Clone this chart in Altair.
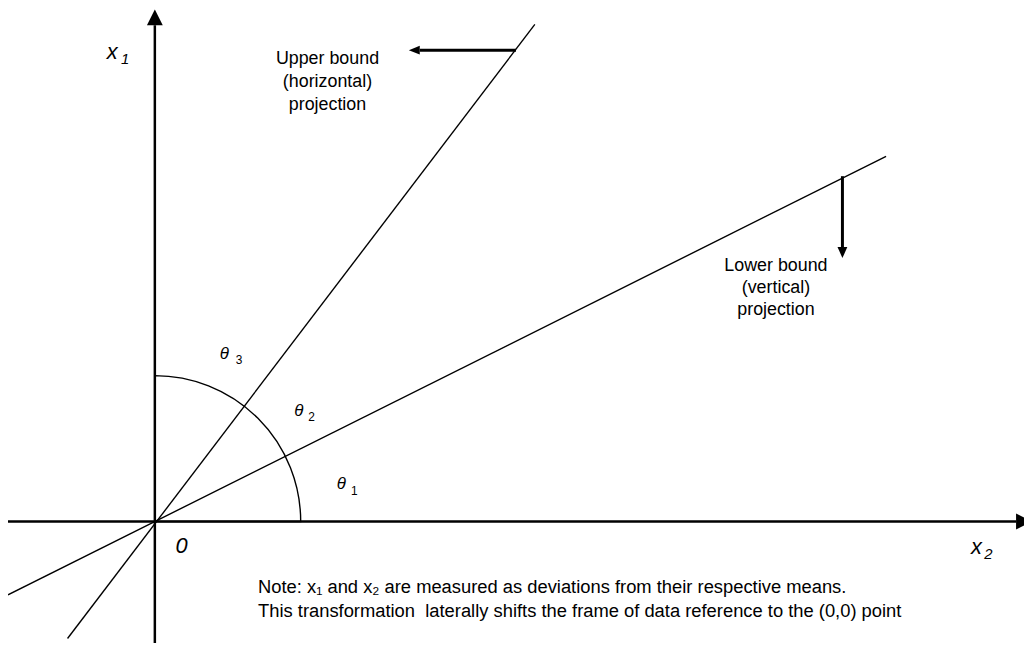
import math
import altair as alt
import pandas as pd

# ---- Diagram coordinates: origin of the (x2, x1) frame at (0, 0); x2 to the right, x1 upward ----
# Coordinate axes (start / end of the shafts)
axis_names = ["x2 axis", "x1 axis"]
axis_x = [-150, 0]
axis_y = [0, -130]
axis_x2 = [868, 0]
axis_y2 = [0, 500]

# Bound lines through the origin
bound_names = ["upper bound line", "lower bound line"]
bound_x = [-88, -148]
bound_y = [-118, -74]
bound_x2 = [383, 737]
bound_y2 = [501, 368]

# Projection arrows (shaft start on the bound line -> shaft end)
proj_names = ["horizontal projection", "vertical projection"]
proj_x = [364, 693]
proj_y = [475, 348]
proj_x2 = [267, 693]
proj_y2 = [475, 276]

# Arrow heads
head_up = {"x": [0], "y": [508]}
head_right = {"x": [876], "y": [0]}
head_left = {"x": [261.5], "y": [475]}
head_down = {"x": [693], "y": [271]}

# Angle arc (quarter circle around the origin)
arc_cx = [0]
arc_cy = [0]
arc_radius = [147]
arc_from_deg = [0]
arc_to_deg = [90]

# Labels
axis_label_text = ["x", "x", "0"]
axis_label_x = [-43, 828, 27]
axis_label_y = [473, -26, -25]
axis_sub_text = ["1", "2"]
axis_sub_x = [-30, 840]
axis_sub_y = [466, -33]

theta_text = ["θ", "θ", "θ"]
theta_x = [70, 145, 188]
theta_y = [169, 111, 38]
theta_sub_text = ["3", "2", "1"]
theta_sub_x = [85, 158, 201]
theta_sub_y = [163, 105, 31]

block_text = ["Upper bound", "(horizontal)", "projection",
              "Lower bound", "(vertical)", "projection"]
block_x = [174, 174, 174, 626, 626, 626]
block_y = [466, 443, 420, 257, 235, 213]

note_text = ["Note: x\u2081 and x\u2082 are measured as deviations from their respective means.",
             "This transformation \u00a0laterally shifts the frame of data reference to the (0,0) point"]
note_x = [104, 104]
note_y = [-66, -90]

# ---- Scales (1 unit = 1 px) ----
W, H = 1024, 635
xs = alt.Scale(domain=[-148, 876], range=[0, W], nice=False, zero=False)
ys = alt.Scale(domain=[-120, 515], range=[H, 0], nice=False, zero=False)

def xy(xf="x", yf="y"):
    return dict(x=alt.X(f"{xf}:Q", scale=xs, axis=None),
                y=alt.Y(f"{yf}:Q", scale=ys, axis=None))

def segs(names, x, y, x2, y2):
    return pd.DataFrame({"name": names, "x": x, "y": y, "x2": x2, "y2": y2})

FONT = "Liberation Sans"

axes = alt.Chart(segs(axis_names, axis_x, axis_y, axis_x2, axis_y2)).mark_rule(
    color="black", strokeWidth=2.5).encode(**xy(), x2="x2:Q", y2="y2:Q")

bounds = alt.Chart(segs(bound_names, bound_x, bound_y, bound_x2, bound_y2)).mark_rule(
    color="black", strokeWidth=1.4).encode(**xy(), x2="x2:Q", y2="y2:Q")

projs = alt.Chart(segs(proj_names, proj_x, proj_y, proj_x2, proj_y2)).mark_rule(
    color="black", strokeWidth=3).encode(**xy(), x2="x2:Q", y2="y2:Q")

def head(d, shape, size):
    return alt.Chart(pd.DataFrame(d)).mark_point(
        shape=shape, filled=True, color="black", opacity=1, size=size, strokeWidth=0
    ).encode(**xy())

h_up = head(head_up, "M0,-1L1,1L-1,1Z", 256)
h_right = head(head_right, "M1,0L-1,-1L-1,1Z", 256)
h_left = head(head_left, "M-1,0L1,-0.8L1,0.8Z", 121)
h_down = head(head_down, "M0,1L-0.9,-1L0.9,-1Z", 121)

arc_df = pd.DataFrame({"x": arc_cx, "y": arc_cy, "r": arc_radius,
                       "t0": [math.radians(v) for v in arc_from_deg],
                       "t1": [math.radians(v) for v in arc_to_deg]})
arc = alt.Chart(arc_df).mark_arc(fillOpacity=0, stroke="black", strokeWidth=1.4).encode(
    **xy(),
    theta=alt.Theta("t0:Q", scale=None, stack=False),
    theta2="t1:Q",
    radius=alt.Radius("r:Q", scale=None),
)

def texts(t, x, y, size, italic=False, align="center"):
    df = pd.DataFrame({"t": t, "x": x, "y": y})
    kw = dict(font=FONT, fontSize=size, color="black", align=align, baseline="middle")
    if italic:
        kw["fontStyle"] = "italic"
    return alt.Chart(df).mark_text(**kw).encode(**xy(), text="t:N")

lab_axis = texts(axis_label_text, axis_label_x, axis_label_y, 22, italic=True)
lab_axis_sub = texts(axis_sub_text, axis_sub_x, axis_sub_y, 15, italic=True)
lab_theta = texts(theta_text, theta_x, theta_y, 17, italic=True)
lab_theta_sub = texts(theta_sub_text, theta_sub_x, theta_sub_y, 12)
lab_block = texts(block_text, block_x, block_y, 18)
lab_note = texts(note_text, note_x, note_y, 18.5, align="left")

chart = alt.layer(
    bounds, arc, axes, projs, h_up, h_right, h_left, h_down,
    lab_axis, lab_axis_sub, lab_theta, lab_theta_sub, lab_block, lab_note
).properties(
    width=W, height=H, autosize=alt.AutoSizeParams(type="none"), padding=0, background="white"
).configure_view(stroke=None)

chart.save("out.html", embed_options={"renderer": "svg", "actions": False})
